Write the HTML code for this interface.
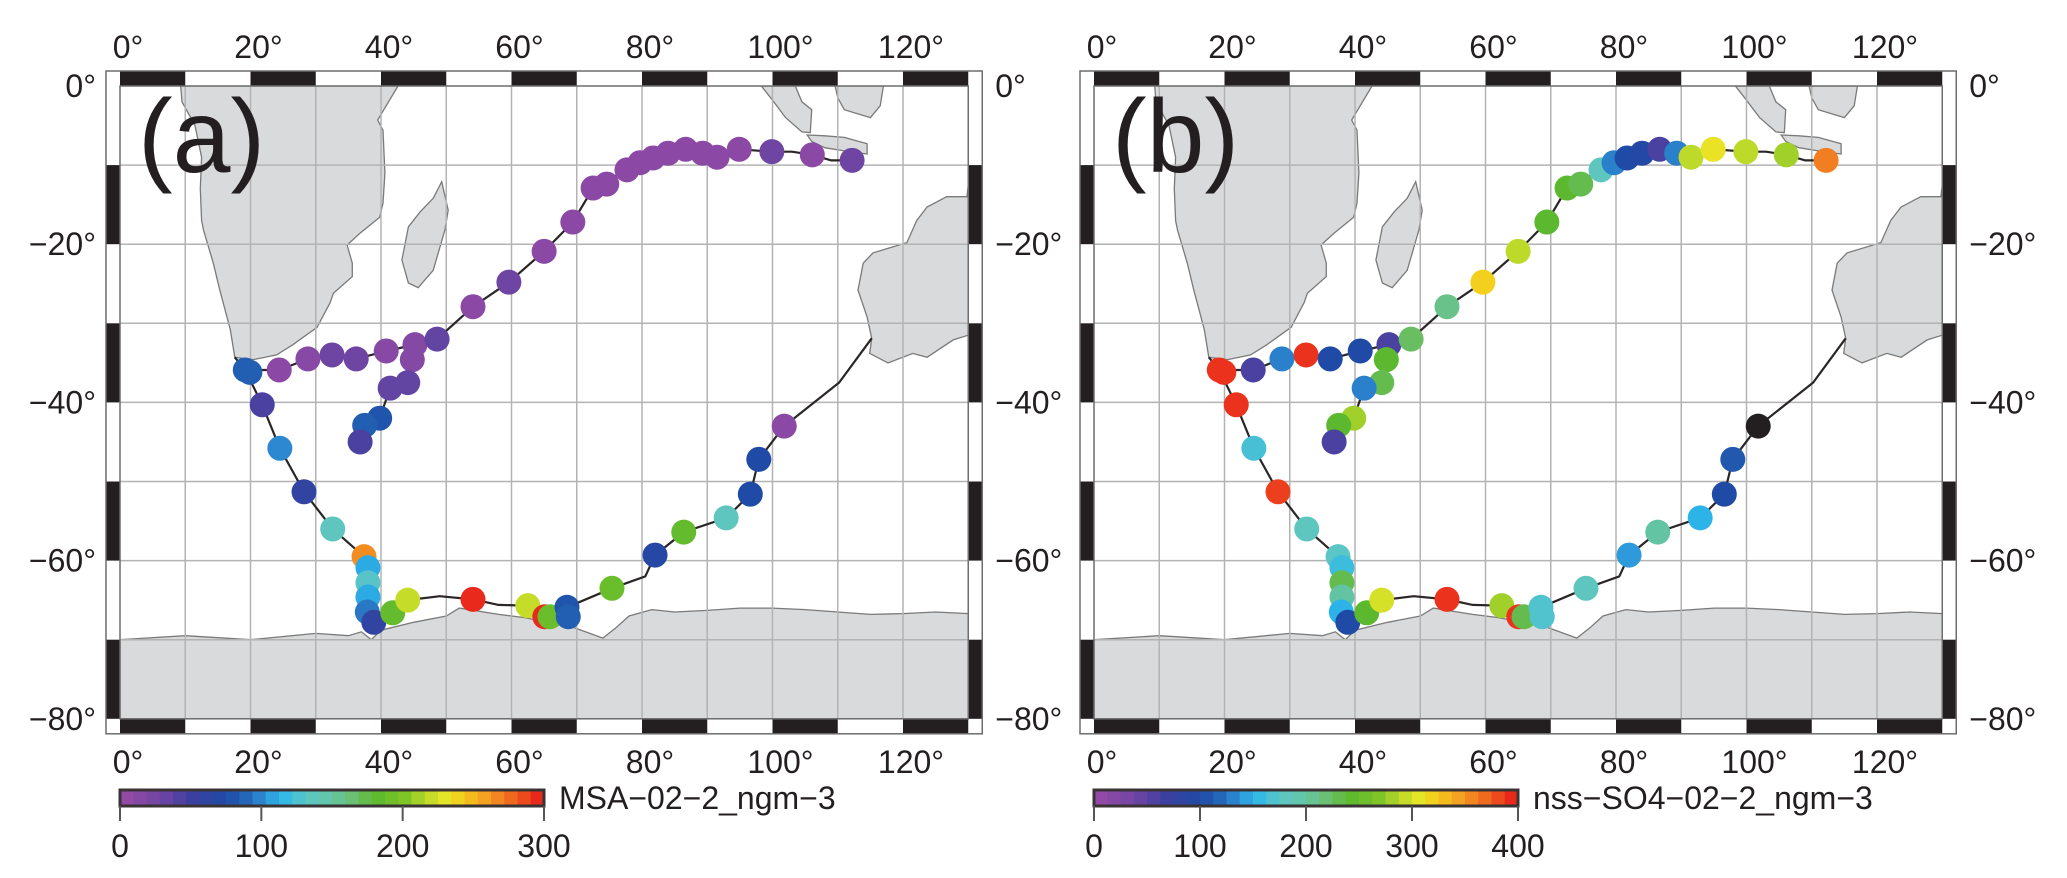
<!DOCTYPE html>
<html><head><meta charset="utf-8">
<style>
html,body{margin:0;padding:0;background:#fff;}
svg{display:block;}
text{font-family:"Liberation Sans",sans-serif;fill:#231f20;}
</style></head>
<body>
<svg id="fig" width="2067" height="878" viewBox="0 0 2067 878" xmlns="http://www.w3.org/2000/svg"></svg>
<script>
// ---- data ----
const stationLon = [19.2,19.9,24.4,28.8,32.5,36.2,40.8,45.2,44.8,48.6,54.1,59.6,65.0,69.4,72.5,74.6,77.7,79.7,81.7,84.0,86.7,89.3,91.5,94.9,99.9,106.1,112.2,
 44.1,41.4,39.8,37.5,36.8,
 21.8,24.5,28.2,32.6,37.4,38.0,38.0,38.0,37.9,38.9,
 41.8,44.1,54.1,62.5,65.1,65.9,68.5,68.7,
 75.4,82.0,86.4,92.9,96.6,97.9,101.8];
const stationLat = [-35.9,-36.2,-35.9,-34.5,-34.0,-34.5,-33.5,-32.7,-34.6,-32.0,-27.9,-24.8,-20.9,-17.2,-12.9,-12.4,-10.6,-9.7,-9.1,-8.5,-8.0,-8.5,-9.0,-8.0,-8.3,-8.7,-9.4,
 -37.5,-38.2,-42.0,-42.9,-45.0,
 -40.3,-45.8,-51.3,-56.0,-59.5,-60.9,-62.8,-64.6,-66.5,-67.8,
 -66.6,-65.0,-64.9,-65.7,-67.1,-67.1,-65.9,-67.1,
 -63.5,-59.3,-56.4,-54.6,-51.6,-47.2,-43.0];
const msaValues = [85,85,10,12,30,30,12,15,15,35,10,30,10,10,10,10,10,10,10,10,10,10,10,10,30,10,30,
 35,35,80,85,45,
 45,100,60,135,265,110,130,110,95,60,
 185,220,295,220,295,190,80,85,
 190,70,185,135,75,75,10];
const so4Values = [390,390,60,130,390,100,100,60,240,225,210,320,290,240,240,230,180,130,100,95,60,130,290,310,290,280,360,
 230,130,280,240,60,
 390,165,385,180,175,160,230,200,150,100,
 240,300,390,280,390,230,170,170,
 180,140,200,150,100,110,450];
const lonTicks = [0,20,40,60,80,100,120];
const latTicks = [0,-20,-40,-60,-80];
const msaTicks = [0,100,200,300];
const so4Ticks = [0,100,200,300,400];
const trackA = [[115.2,-31.9],[110.2,-37.5],[101.8,-43],[97.9,-47.2],[96.6,-51.6],[92.9,-54.6],[86.4,-56.4],[82,-59.3],[80.5,-62],[75.4,-63.5],[68.5,-65.9],[65.5,-67.1],[62.5,-65.7],[58,-65.6],[54.1,-64.9],[49,-64.5],[44.1,-65],[41.8,-66.6],[38.9,-67.8],[37.9,-66.5],[38,-60.9],[37.4,-59.5],[32.6,-56],[28.2,-51.3],[24.5,-45.8],[21.8,-40.3],[19.2,-35.9],[17.6,-34.3]];
const trackB = [[19.2,-35.9],[24.4,-35.9],[28.8,-34.5],[32.5,-34],[36.2,-34.5],[40.8,-33.5],[45.2,-32.7],[48.6,-32],[54.1,-27.9],[59.6,-24.8],[65,-20.9],[69.4,-17.2],[72.5,-12.9],[77.7,-10.6],[81.7,-9.1],[86.7,-8],[91.5,-9],[94.9,-8],[99.9,-8.3],[103,-8.3],[106.1,-8.7],[109,-9.4],[112.2,-9.4],[114,-9]];
const trackC = [[45.2,-32.7],[44.8,-34.6],[44.1,-37.5],[41.4,-38.2],[39.8,-42],[37.5,-42.9],[36.8,-45]];
const africa = [[9.3,0],[9.5,-2],[11.5,-5],[12.5,-9],[12.3,-13],[12.5,-17],[12.8,-18.2],[14.3,-22.4],[15.3,-25.8],[16.9,-30.8],[17.6,-34.3],[20.4,-34.6],[24,-34],[26.5,-32.7],[30.2,-30.5],[32.2,-27.4],[32.7,-26.2],[35.6,-24.1],[35.6,-22.4],[34.8,-20.1],[36.8,-18.6],[39.8,-16.6],[40.3,-14.8],[40.6,-11],[40.3,-5.6],[39.5,-4.3],[42.6,0]];
const madagascar = [[49.3,-12.1],[50.3,-15.7],[49.8,-18.2],[48,-23.3],[45.7,-25.5],[44.2,-24.9],[43.2,-22],[44.2,-17.8],[46,-15.9],[48,-14.2]];
const australia = [[130,-12.5],[129.8,-14],[126.7,-14],[123.7,-15.3],[122.1,-17],[120.6,-19.8],[115.4,-21.1],[113.9,-22.4],[113.1,-25.8],[114.5,-29.2],[115.2,-31.9],[114.9,-33.8],[117.7,-35],[121.5,-33.8],[123.7,-34.3],[127.7,-32.1],[130,-31.5]];
const sumatra = [[98.3,0],[103.5,0],[104.5,-2],[106,-3],[105.8,-5.9],[104.5,-5.8],[102,-4],[100,-1.8]];
const borneo = [[109.6,0],[117,0],[116.5,-2.5],[115,-4],[111,-3],[110,-1.5]];
const java = [[105.3,-6.2],[108,-6.3],[111,-6.5],[114.5,-7.3],[114.5,-8.6],[111,-8.2],[108,-7.8],[106,-7]];
const antarctica = [[0,-70],[10,-69.5],[20,-70],[30,-69.2],[35,-69.5],[37,-69],[38.5,-70],[40,-68.8],[45,-67.8],[50,-67],[52,-66],[58,-66.8],[62,-67.2],[65,-67.7],[68,-68],[70,-68.6],[74,-69.8],[76,-68.5],[78,-67],[81.5,-66.2],[85,-66.5],[90,-66.3],[95,-66],[100,-66],[105,-66.2],[110,-66.5],[115,-66.8],[120,-66.7],[125,-66.5],[130,-66.7],[130,-80],[0,-80]];

// ---- helpers ----
const NS='http://www.w3.org/2000/svg';
const svg=document.getElementById('fig');
const PX=6.525, PY=7.91, X0=120, Y0=86;
function mk(tag,attrs,parent){const e=document.createElementNS(NS,tag);for(const k in attrs)e.setAttribute(k,attrs[k]);(parent||svg).appendChild(e);return e;}
const stops=[[0,'#9a4aa6'],[0.1,'#6e45a3'],[0.17,'#3c40a0'],[0.25,'#1f4aa6'],[0.3,'#2468b8'],[0.34,'#2f8fd6'],[0.38,'#2bb8ea'],[0.44,'#5ec6c4'],[0.5,'#63c4a4'],[0.55,'#6cc070'],[0.6,'#5cb82e'],[0.67,'#7cc428'],[0.72,'#b8d82a'],[0.77,'#e8e626'],[0.81,'#f5c81a'],[0.87,'#f49a24'],[0.92,'#ef6b1e'],[1,'#e8181c']];
function hex(c){return [parseInt(c.substr(1,2),16),parseInt(c.substr(3,2),16),parseInt(c.substr(5,2),16)];}
function cmap(t){
  if(t>1.02) return '#231f20';
  t=Math.max(0,Math.min(1,t));
  for(let i=1;i<stops.length;i++){if(t<=stops[i][0]){const a=stops[i-1],b=stops[i];const f=(t-a[0])/(b[0]-a[0]);const ca=hex(a[1]),cb=hex(b[1]);return 'rgb('+ca.map((v,j)=>Math.round(v+(cb[j]-v)*f)).join(',')+')';}}
  return stops[stops.length-1][1];
}

function drawPanel(ox, values, vmax, ticks, label, letter, key, leftLabels){
  const g=mk('g',{});
  
  
  const xs=lon=>ox+X0+lon*PX, ys=lat=>Y0-lat*PY;
  const pts=arr=>arr.map(p=>xs(p[0]).toFixed(1)+','+ys(p[1]).toFixed(1)).join(' ');
  [['africa',africa],['madagascar',madagascar],['australia',australia],['sumatra',sumatra],['borneo',borneo],['java',java],['antarctica',antarctica]].forEach(([n,a])=>{
    const p=mk('polygon',{points:pts(a),fill:'#d9dadb',stroke:'#7a7a7a','stroke-width':1.3},g);
    
    
  });
  const grid=mk('g',{stroke:'#b3b3b3','stroke-width':1.5},g);
  
  
  for(let L=10;L<130;L+=10) mk('line',{x1:xs(L),x2:xs(L),y1:ys(0),y2:ys(-80)},grid);
  for(let L=-10;L>-80;L-=10) mk('line',{x1:xs(0),x2:xs(130),y1:ys(L),y2:ys(L)},grid);
  [trackA,trackB,trackC].forEach((t,i)=>{
    const pl=mk('polyline',{points:pts(t),fill:'none',stroke:'#2b2626','stroke-width':2.2},g);
    
    
  });
  for(let i=0;i<stationLon.length;i++){
    const c=mk('circle',{cx:xs(stationLon[i]),cy:ys(stationLat[i]),r:12.5,fill:cmap(values[i]/vmax)},g);
    
    
  }
  const fx0=xs(0)-14, fx1=xs(130)+14, fy0=ys(0)-15, fy1=ys(-80)+15;
  const fr=mk('g',{},g);
  
  
  mk('rect',{x:fx0,y:fy0,width:fx1-fx0,height:ys(0)-fy0,fill:'#fff'},fr);
  mk('rect',{x:fx0,y:ys(-80),width:fx1-fx0,height:fy1-ys(-80),fill:'#fff'},fr);
  mk('rect',{x:fx0,y:fy0,width:14,height:fy1-fy0,fill:'#fff'},fr);
  mk('rect',{x:xs(130),y:fy0,width:14,height:fy1-fy0,fill:'#fff'},fr);
  for(let k=0;k<13;k+=2){
    mk('rect',{x:xs(k*10),y:fy0,width:10*PX,height:15,fill:'#231f20'},fr);
    mk('rect',{x:xs(k*10),y:ys(-80),width:10*PX,height:15,fill:'#231f20'},fr);
  }
  for(let k=1;k<8;k+=2){
    mk('rect',{x:fx0,y:ys(-k*10),width:14,height:10*PY,fill:'#231f20'},fr);
    mk('rect',{x:xs(130),y:ys(-k*10),width:14,height:10*PY,fill:'#231f20'},fr);
  }
  mk('rect',{x:fx0,y:fy0,width:fx1-fx0,height:fy1-fy0,fill:'none',stroke:'#6d6d6d','stroke-width':1.5},fr);
  mk('rect',{x:xs(0),y:ys(0),width:130*PX,height:80*PY,fill:'none',stroke:'#6d6d6d','stroke-width':1.5},fr);
  lonTicks.forEach(L=>{
    [47,762].forEach((yy,j)=>{
      const t=mk('text',{x:xs(L)+8,y:yy+11,'font-size':32,'text-anchor':'middle'},g);
      t.textContent=L+'°';
      
      
    });
  });
  latTicks.forEach(L=>{
    const s=(L<0?'\u2212'+(-L):'0')+'°';
    if(leftLabels){
      const t1=mk('text',{x:ox+96,y:ys(L)+11,'font-size':32,'text-anchor':'end'},g);
      t1.textContent=s;
      
      
    }
    const t2=mk('text',{x:fx1+13,y:ys(L)+11,'font-size':32,'text-anchor':'start'},g);
    t2.textContent=s;
    
    
  });
  const pt=mk('text',{x:xs(0)+18,y:172,'font-size':104},g);
  pt.textContent=letter;
  
  
  const cb0=ox+120, cb1=ox+544, cy0=790, cy1=806;
  const N=32;
  for(let i=0;i<N;i++){
    mk('rect',{x:cb0+(cb1-cb0)*i/N,y:cy0,width:(cb1-cb0)/N+0.6,height:cy1-cy0,fill:cmap((i+0.5)/N)},g);
  }
  const cbb=mk('rect',{x:cb0,y:cy0,width:cb1-cb0,height:cy1-cy0,fill:'none',stroke:'#3a3334','stroke-width':3},g);
  
  
  const tmax=ticks[ticks.length-1];
  ticks.forEach(v=>{
    const xx=cb0+(cb1-cb0)*v/tmax;
    mk('line',{x1:xx,x2:xx,y1:cy1,y2:821,stroke:'#555','stroke-width':2},g);
    const t=mk('text',{x:xx,y:857,'font-size':32,'text-anchor':'middle'},g);
    t.textContent=v;
    
    
  });
  const lt=mk('text',{x:cb1+15,y:809,'font-size':32},g);
  lt.textContent=label;
  
  
}
drawPanel(0, msaValues, 300, msaTicks, 'MSA\u221202\u22122_ngm\u22123', '(a)', 'msa', true);
drawPanel(974, so4Values, 400, so4Ticks, 'nss\u2212SO4\u221202\u22122_ngm\u22123', '(b)', 'so4', false);
</script>
</body></html>
